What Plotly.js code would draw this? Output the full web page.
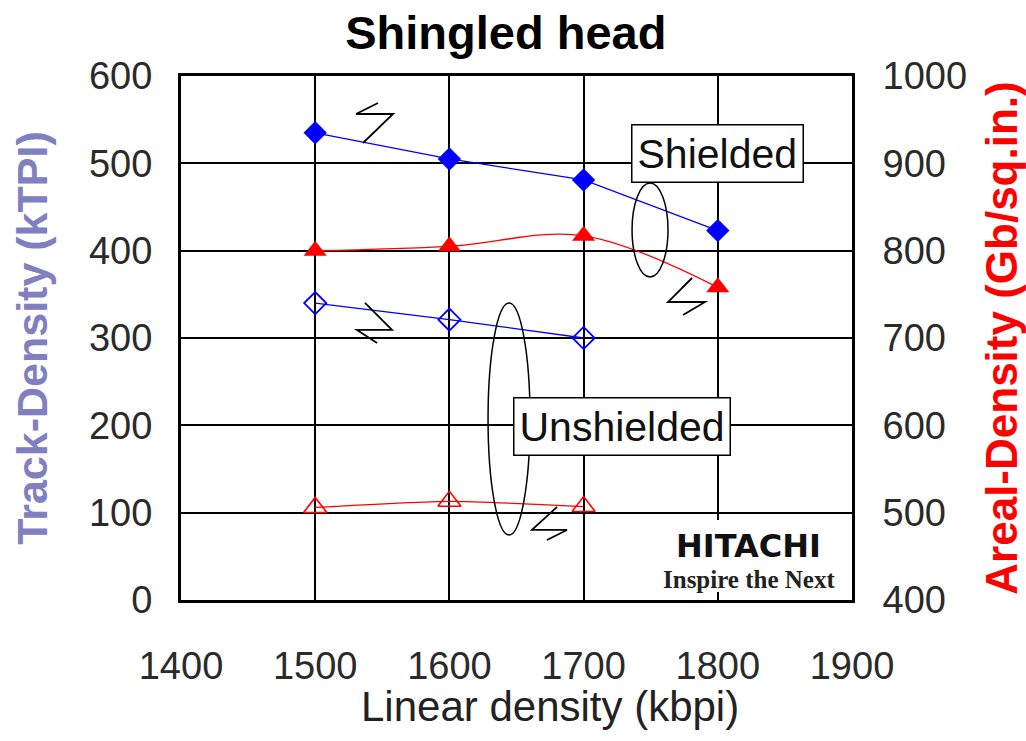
<!DOCTYPE html>
<html>
<head>
<meta charset="utf-8">
<script src="https://cdn.plot.ly/plotly-3.0.1.min.js"></script>
<style>html,body{margin:0;padding:0;background:#fff;}#chart{width:1026px;height:741px;}</style>
</head>
<body>
<div id="chart"></div>
<script>
// Data
var linearDensity = [1500, 1600, 1700, 1800];
var linearDensityUnshielded = [1500, 1600, 1700];
var trackShielded = [535, 505, 481, 423];        // kTPI (left axis)
var trackUnshielded = [340, 321, 300];           // kTPI (left axis)
var arealShielded = [800, 805, 817, 758];        // Gb/sq.in. (right axis)
var arealUnshielded = [506, 513, 507];           // Gb/sq.in. (right axis)
var xTicks = [1400, 1500, 1600, 1700, 1800, 1900];
var yLeftTicks = [0, 100, 200, 300, 400, 500, 600];
var yRightTicks = [400, 500, 600, 700, 800, 900, 1000];

var traces = [
  {x: linearDensity, y: trackShielded, type: 'scatter', mode: 'lines+markers', name: 'Track shielded',
   line: {color: '#0000ff', width: 1.3}, marker: {symbol: 'diamond', size: 18, color: '#0000ff'}, yaxis: 'y'},
  {x: linearDensityUnshielded, y: trackUnshielded, type: 'scatter', mode: 'lines+markers', name: 'Track unshielded',
   line: {color: '#0000ff', width: 1.3}, marker: {symbol: 'diamond-open', size: 17, color: '#0000ff', line: {width: 1.8}}, yaxis: 'y'},
  {x: linearDensity, y: arealShielded, type: 'scatter', mode: 'lines+markers', name: 'Areal shielded',
   line: {color: '#ff0000', width: 1.3, shape: 'spline', smoothing: 1}, marker: {symbol: 'triangle-up', size: 20, color: '#ff0000'}, yaxis: 'y2'},
  {x: linearDensityUnshielded, y: arealUnshielded, type: 'scatter', mode: 'lines+markers', name: 'Areal unshielded',
   line: {color: '#ff0000', width: 1.3, shape: 'spline', smoothing: 0.6}, marker: {symbol: 'triangle-up-open', size: 20, color: '#ff0000', line: {width: 1.6}}, yaxis: 'y2'}
];

function zig(pts) {
  var s = '';
  for (var i = 0; i < pts.length; i++) s += (i === 0 ? 'M ' : ' L ') + pts[i][0] + ',' + pts[i][1];
  return s;
}
var blk = {color: '#000', width: 1.8};
var shapes = [
  {type: 'path', xref: 'x', yref: 'y', path: zig([[1546.8, 569.1], [1530.4, 556.5], [1558.0, 556.5], [1535.6, 523.3]]), line: blk},
  {type: 'path', xref: 'x', yref: 'y', path: zig([[1537.1, 340.1], [1557.2, 309.2], [1531.1, 309.2], [1546.1, 294.3]]), line: blk},
  {type: 'path', xref: 'x', yref: 'y', path: zig([[1780.8, 368.7], [1762.9, 341.2], [1790.5, 341.2], [1774.1, 326.3]]), line: blk},
  {type: 'path', xref: 'x', yref: 'y', path: zig([[1680.2, 106.5], [1661.5, 80.2], [1687.6, 80.2], [1672.7, 68.7]]), line: blk},
  {type: 'circle', xref: 'x', yref: 'y', x0: 1736.1, x1: 1762.9, y0: 369.9, y1: 477.5, line: {color: '#000', width: 1.5}},
  {type: 'circle', xref: 'x', yref: 'y', x0: 1628.8, x1: 1660.1, y0: 74.4, y1: 340.1, line: {color: '#000', width: 1.5}},
  {type: 'rect', xref: 'x', yref: 'y', x0: 1749.5, x1: 1897, y0: 9.2, y1: 91.6, fillcolor: '#fff', line: {width: 0}, layer: 'above'}
];

var annotations = [
  {xref: 'x', yref: 'y', x: 1800.1, y: 511.8, text: 'Shielded', showarrow: false,
   font: {family: 'Arial, Liberation Sans, sans-serif', size: 41, color: '#111'},
   bgcolor: '#fff', bordercolor: '#000', borderwidth: 1.5, borderpad: 5},
  {xref: 'x', yref: 'y', x: 1728.6, y: 199.2, text: 'Unshielded', showarrow: false,
   font: {family: 'Arial, Liberation Sans, sans-serif', size: 41, color: '#111'},
   bgcolor: '#fff', bordercolor: '#000', borderwidth: 1.5, borderpad: 5},
  {xref: 'x', yref: 'y', x: 1823, y: 62, text: '<b>HITACHI</b>', showarrow: false,
   font: {family: 'DejaVu Sans, sans-serif', size: 32, color: '#111'}},
  {xref: 'x', yref: 'y', x: 1823, y: 23, text: '<b>Inspire the Next</b>', showarrow: false,
   font: {family: 'Liberation Serif, serif', size: 25, color: '#222'}},
  {xref: 'paper', yref: 'paper', x: 0.55, y: -0.204, xanchor: 'center', yanchor: 'middle', text: 'Linear density (kbpi)', showarrow: false,
   font: {family: 'Arial, Liberation Sans, sans-serif', size: 42, color: '#222'}}
];

var tickFont = {family: 'Arial, Liberation Sans, sans-serif', size: 38, color: '#2a2a2a'};
var layout = {
  width: 1026, height: 741,
  margin: {l: 181, r: 174, t: 76, b: 141, pad: 0},
  paper_bgcolor: '#fff', plot_bgcolor: '#fff',
  showlegend: false,
  title: {text: '<b>Shingled head</b>', x: 0.493, xref: 'container', xanchor: 'center', y: 0.956, yref: 'container', yanchor: 'middle',
          font: {family: 'Arial, Liberation Sans, sans-serif', size: 47, color: '#000'}},
  xaxis: {range: [1400, 1900], tickvals: xTicks, ticktext: xTicks.map(String), showgrid: true, gridcolor: '#000', gridwidth: 2,
          zeroline: false, showline: true, linecolor: '#000', linewidth: 3, mirror: true,
          ticks: 'outside', ticklen: 30, tickcolor: 'rgba(0,0,0,0)', tickfont: tickFont, automargin: false},
  yaxis: {range: [0, 600], tickvals: yLeftTicks, ticktext: yLeftTicks.map(String), showgrid: true, gridcolor: '#000', gridwidth: 2,
          zeroline: false, showline: true, linecolor: '#000', linewidth: 3, mirror: true,
          ticks: 'outside', ticklen: 18, tickcolor: 'rgba(0,0,0,0)', tickfont: tickFont, automargin: false,
          title: {text: '<b>Track-Density (kTPI)</b>', standoff: 28, font: {family: 'Arial, Liberation Sans, sans-serif', size: 43, color: '#8080c0'}}},
  yaxis2: {range: [400, 1000], tickvals: yRightTicks, ticktext: yRightTicks.map(String), overlaying: 'y', side: 'right', showgrid: false,
           zeroline: false, showline: false,
           ticks: 'outside', ticklen: 22, tickcolor: 'rgba(0,0,0,0)', tickfont: tickFont, automargin: false,
           title: {text: '<b>Areal-Density (Gb/sq.in.)</b>', standoff: 20, font: {family: 'Arial, Liberation Sans, sans-serif', size: 44, color: '#ff0000'}}},
  shapes: shapes,
  annotations: annotations
};

Plotly.newPlot('chart', traces, layout, {staticPlot: true, displayModeBar: false});
</script>
</body>
</html>
